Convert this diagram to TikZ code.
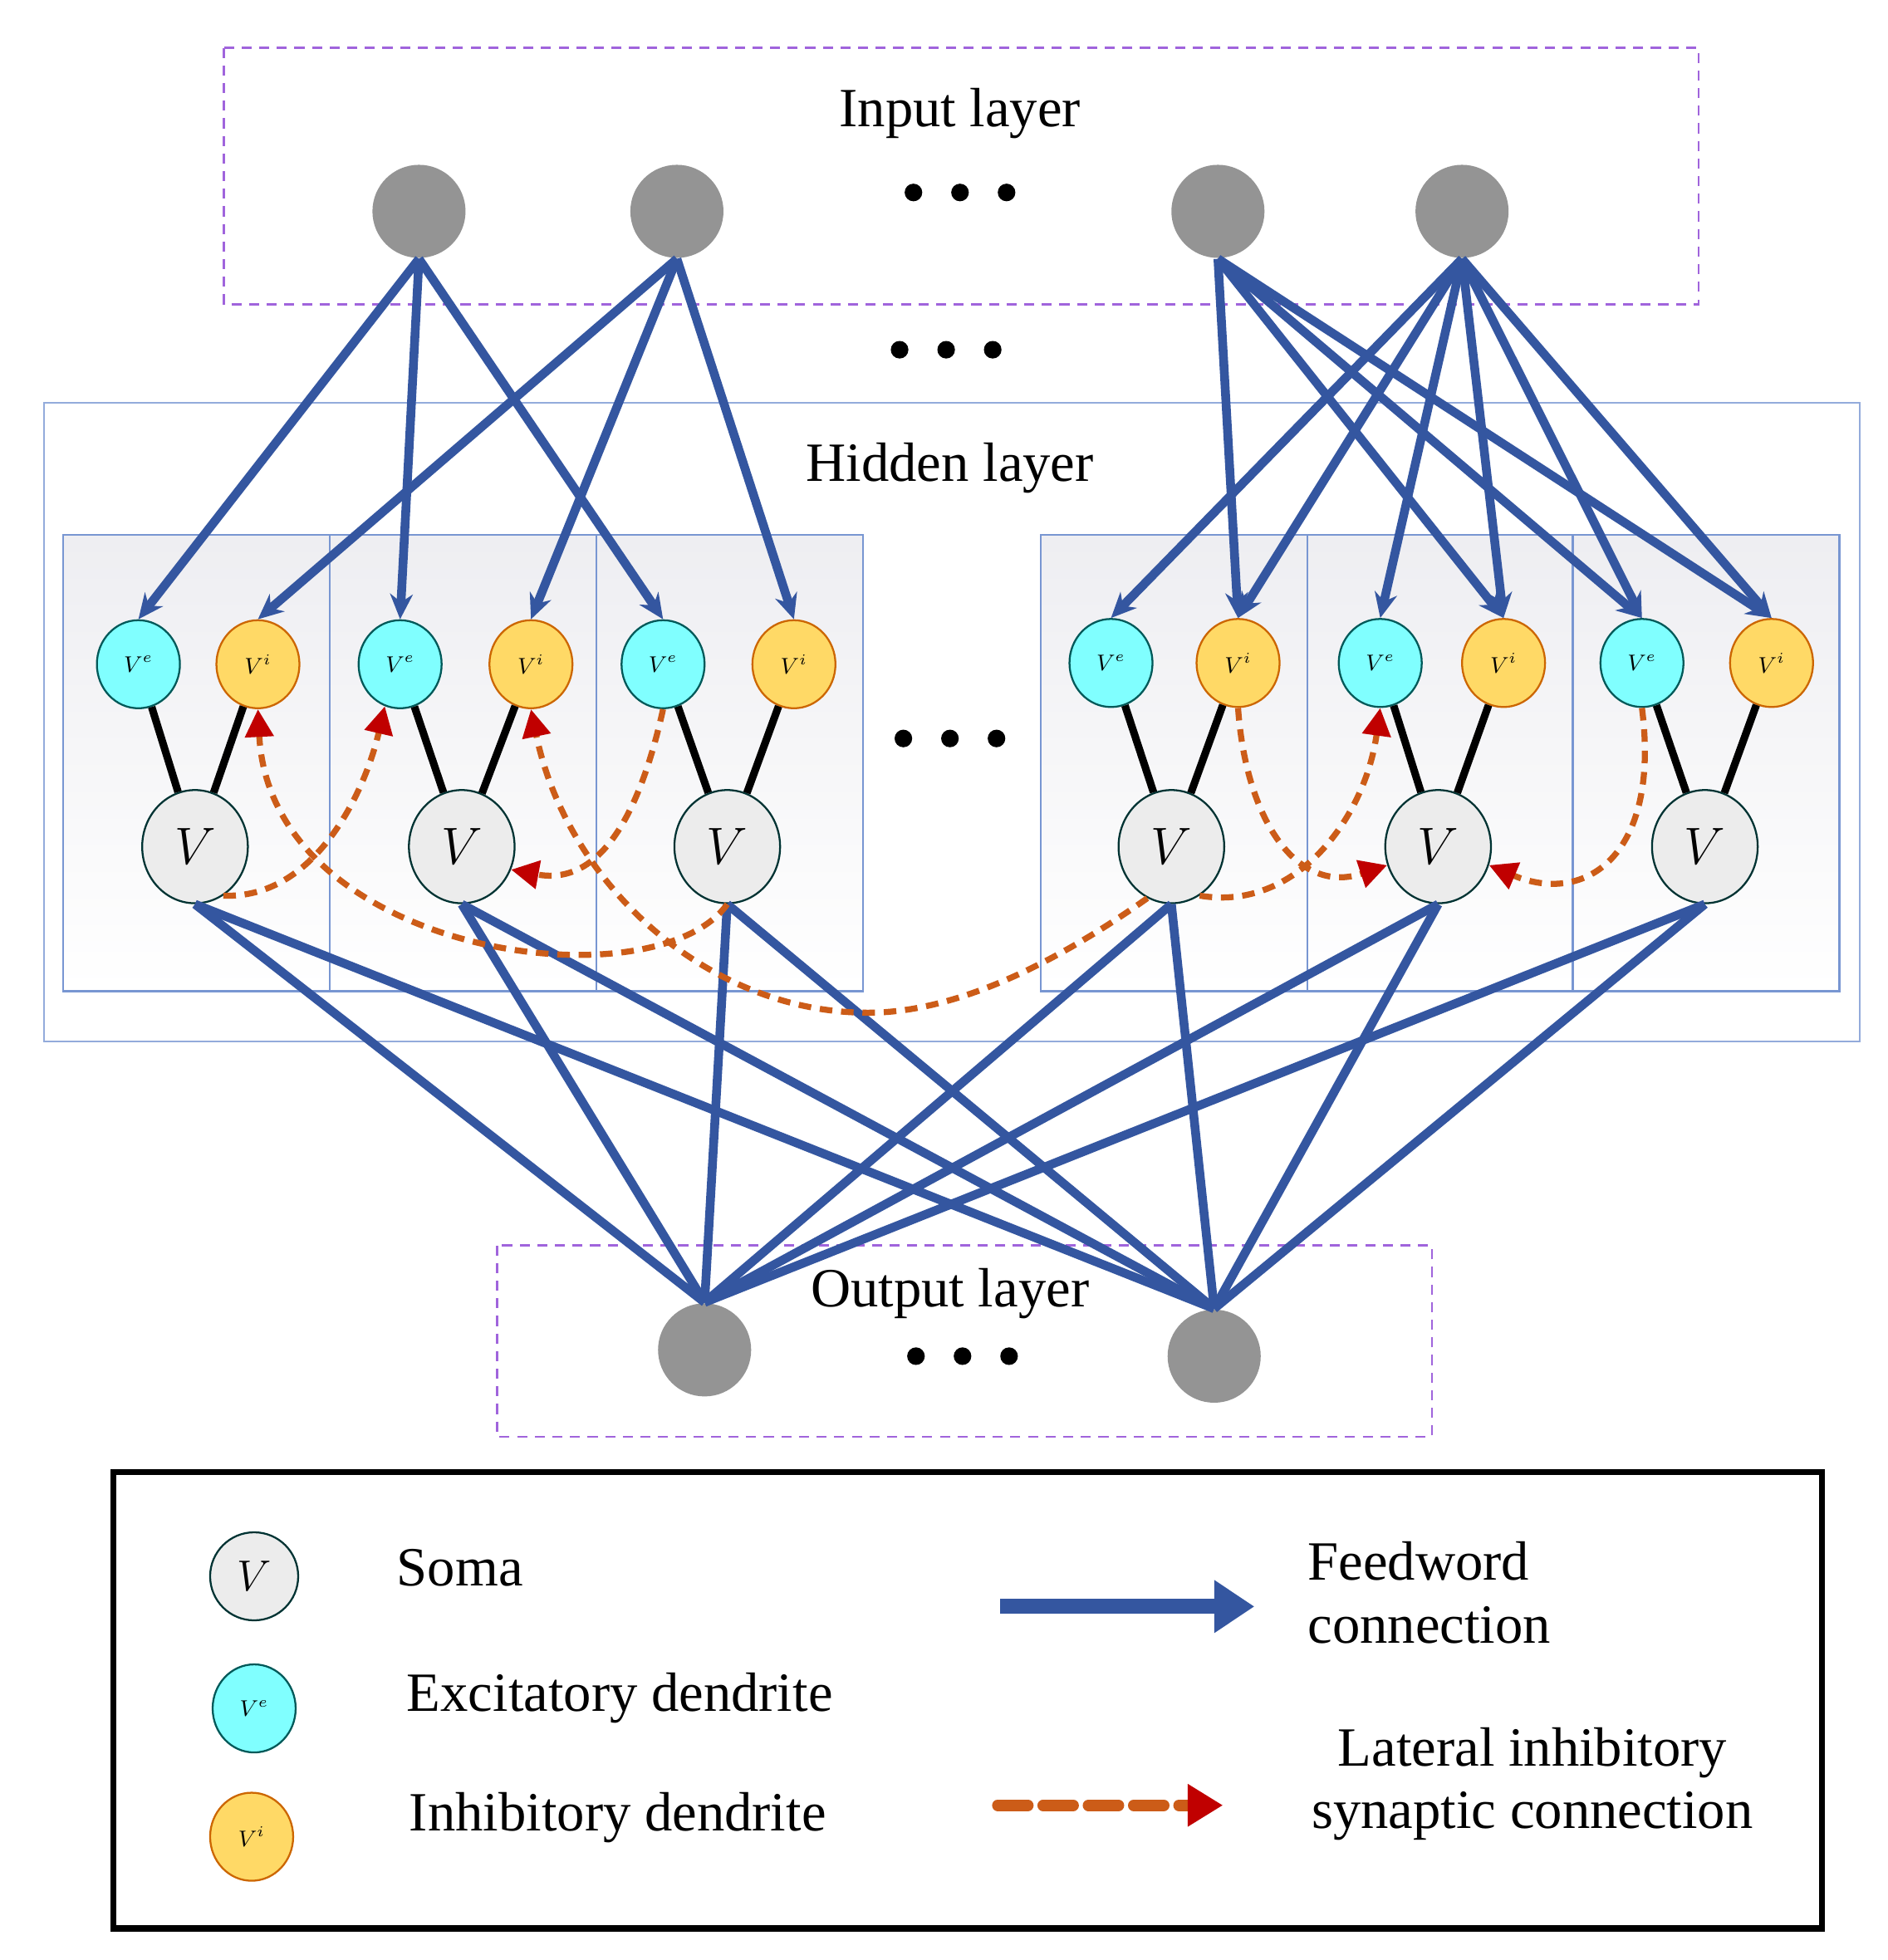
\documentclass[tikz,border=0pt]{standalone}
\usepackage{fontspec}
\setmainfont{Liberation Serif}
\usetikzlibrary{arrows.meta,shapes.geometric}
\definecolor{ffblue}{RGB}{52,86,160}
\definecolor{inhorange}{RGB}{204,92,24}
\definecolor{inhred}{RGB}{192,0,0}
\definecolor{exccyan}{RGB}{128,255,255}
\definecolor{inhyellow}{RGB}{255,217,102}
\definecolor{layerpurple}{RGB}{160,100,220}
\definecolor{boxblue}{RGB}{120,150,210}
\tikzset{
  every picture/.style={line width=0.75pt},
  inode/.style={circle,fill=gray!95!black!80,minimum size=37pt,inner sep=0pt},
  exc/.style={ellipse,draw=teal!70!black,fill=exccyan,minimum width=33pt,minimum height=35pt,inner sep=0pt,font=\fontsize{9}{9}\selectfont},
  inh/.style={ellipse,draw=orange!80!black,fill=inhyellow,minimum width=33pt,minimum height=35pt,inner sep=0pt,font=\fontsize{9}{9}\selectfont},
  soma/.style={ellipse,draw=teal!40!black,fill=gray!15,minimum width=42pt,minimum height=45pt,inner sep=0pt,font=\fontsize{20}{20}\selectfont},
  ff/.style={draw=ffblue,line width=3.5pt,-{Stealth[length=10pt,width=9pt]}},
  ffl/.style={draw=ffblue,line width=3.5pt},
  den/.style={draw=black,line width=3pt},
  lat/.style={draw=inhorange,line width=2.4pt,dash pattern=on 5pt off 3.5pt,-{Triangle[length=11pt,width=11pt,fill=inhred,color=inhred]}},
  layerbox/.style={draw=layerpurple,dash pattern=on 4pt off 3pt,line width=0.8pt},
  cell/.style={draw=boxblue,line width=0.8pt,top color=blue!12!gray!12,bottom color=white},
  lbl/.style={font=\fontsize{22}{25}\selectfont}
}
\begin{document}
\begin{tikzpicture}[x=0.5pt,y=0.5pt,yscale=-1]
  \useasboundingbox (0,0) rectangle (1500,1558);
  % layers
  \draw [layerbox] (178,38) rectangle (1350,242);
  \draw [draw=boxblue!80,line width=0.8pt] (35,320) rectangle (1478,828);
  \draw [layerbox] (395,990) rectangle (1138,1142);
  \foreach \xa in {50,262,474,827,1039,1250}
    \draw [cell] (\xa,425) rectangle ++(212,363);
  \node [lbl] (inlabel) at (763,90) {Input layer};
  \node [lbl] (hidlabel) at (755,372) {Hidden layer};
  \node [lbl] (outlabel) at (755,1028) {Output layer};
  \foreach \xd/\yd in {763/153,752/278,755/587,765/1078}
    \foreach \dx in {-37,0,37} \fill (\xd+\dx,\yd) circle (7);
  % input neurons
  \node [inode] (in1) at (333,168) {};
  \node [inode] (in2) at (538,168) {};
  \node [inode] (in3) at (968,168) {};
  \node [inode] (in4) at (1162,168) {};
  % hidden units
  \node [exc] (ve1) at (110,528) {$V^e$};
  \node [inh] (vi1) at (205,528) {$V^i$};
  \node [exc] (ve2) at (318,528) {$V^e$};
  \node [inh] (vi2) at (422,528) {$V^i$};
  \node [exc] (ve3) at (527,528) {$V^e$};
  \node [inh] (vi3) at (631,528) {$V^i$};
  \node [exc] (ve4) at (883,527) {$V^e$};
  \node [inh] (vi4) at (984,527) {$V^i$};
  \node [exc] (ve5) at (1097,527) {$V^e$};
  \node [inh] (vi5) at (1195,527) {$V^i$};
  \node [exc] (ve6) at (1305,527) {$V^e$};
  \node [inh] (vi6) at (1408,527) {$V^i$};
  \foreach \k/\xs in {1/155,2/367,3/578,4/931,5/1143,6/1355} {
    \node [soma] (s\k) at (\xs,673) {$V$};
    \draw [den] (ve\k) -- (s\k);
    \draw [den] (vi\k) -- (s\k);
  }
  % output neurons
  \node [inode] (out1) at (560,1073) {};
  \node [inode] (out2) at (965,1078) {};
  % feedforward connections
  \foreach \a/\b in {in1/ve1,in1/ve2,in1/ve3,in2/vi1,in2/vi2,in2/vi3,
      in3/vi4,in3/vi5,in3/ve6,in3/vi6,in4/ve4,in4/vi4,in4/ve5,in4/vi5,in4/ve6,in4/vi6}
    \draw [ff] (\a.south) -- (\b.north);
  \foreach \k in {1,...,6} {
    \draw [ffl] (s\k.south) -- (out1.north);
    \draw [ffl] (s\k.south) -- (out2.north);
  }
  % lateral inhibition
  \draw [lat] (s1.-60) .. controls (250,715) and (290,630) .. (ve2.-110);
  \draw [lat] (s3.south) .. controls (520,800) and (215,760) .. (vi1.south);
  \draw [lat] (ve3.south) .. controls (510,640) and (480,705) .. (s2.-25);
  \draw [lat] (s4.-115) .. controls (840,765) and (760,805) .. (690,805) .. controls (560,805) and (450,700) .. (vi2.south);
  \draw [lat] (vi4.south) .. controls (990,650) and (1030,712) .. (s5.200);
  \draw [lat] (s4.-60) .. controls (1030,725) and (1085,650) .. (ve5.south);
  \draw [lat] (ve6.south) .. controls (1320,680) and (1260,720) .. (s5.-20);
  % legend
  \draw [line width=2.5pt] (90,1170) rectangle (1448,1533);
  \node [soma,minimum width=35pt,minimum height=35pt,font=\fontsize{18}{18}\selectfont] (lsoma) at (202,1253) {$V$};
  \node [exc] (lexc) at (202,1358) {$V^e$};
  \node [inh] (linh) at (200,1460) {$V^i$};
  \node [lbl,anchor=west] (tsoma) at (308,1246) {Soma};
  \node [lbl,anchor=west] (texc) at (316,1350) {Excitatory dendrite};
  \node [lbl,anchor=west] (tinh) at (318,1445) {Inhibitory dendrite};
  \coordinate (fa) at (795,1277);
  \coordinate (fb) at (997,1277);
  \draw [draw=ffblue,line width=6pt,-{Triangle[length=16pt,width=20pt]}] (fa) -- (fb);
  \node [lbl,align=left,anchor=west] (tff) at (1032,1266) {Feedword\\connection};
  \coordinate (la) at (793,1435);
  \coordinate (lb) at (972,1435);
  \draw [draw=inhorange,line width=4.5pt,dash pattern=on 12pt off 6pt,line cap=round,-{Triangle[length=14pt,width=16pt,fill=inhred,color=inhred]}] (la) -- (lb);
  \node [lbl,align=center] (tlat) at (1218,1418) {Lateral inhibitory\\synaptic connection};
\end{tikzpicture}
\end{document}
